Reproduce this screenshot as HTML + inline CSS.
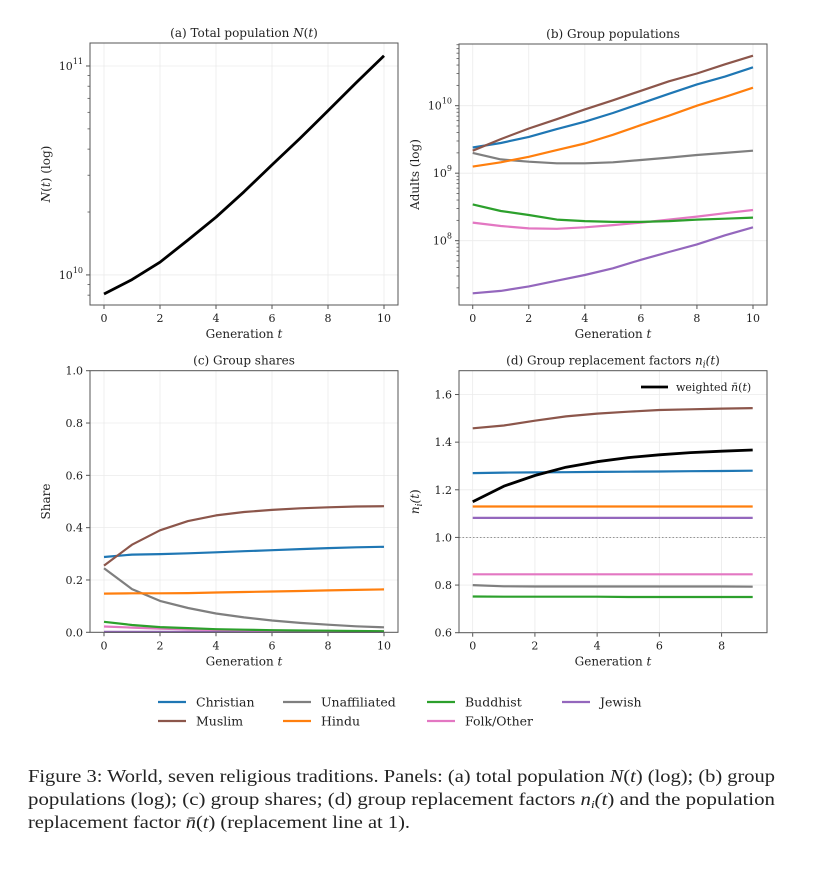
<!DOCTYPE html>
<html><head><meta charset="utf-8"><style>
body{margin:0;background:#fff;}
svg{display:block;font-family:"DejaVu Serif","Liberation Serif",serif;}
</style></head><body>
<svg id="fig" width="820" height="869"></svg>
<script>
const gens = [0,1,2,3,4,5,6,7,8,9,10];
const gensD = [0,1,2,3,4,5,6,7,8,9];
const groups = ["Christian","Muslim","Unaffiliated","Hindu","Buddhist","Folk/Other","Jewish"];
const colors = ["#1f77b4","#8c564b","#7f7f7f","#ff7f0e","#2ca02c","#e377c2","#9467bd"];
const totalPop = [8.1e9,9.5e9,1.15e10,1.47e10,1.89e10,2.5e10,3.36e10,4.5e10,6.1e10,8.3e10,1.12e11];
const popChristian = [2.4e9,2.8e9,3.45e9,4.5e9,5.8e9,7.8e9,1.08e10,1.5e10,2.07e10,2.7e10,3.7e10];
const popMuslim = [2.15e9,3.2e9,4.6e9,6.3e9,8.8e9,1.2e10,1.66e10,2.3e10,3.0e10,4.1e10,5.5e10];
const popUnaffiliated = [2.0e9,1.6e9,1.48e9,1.4e9,1.4e9,1.45e9,1.57e9,1.7e9,1.86e9,2.0e9,2.15e9];
const popHindu = [1.25e9,1.45e9,1.75e9,2.2e9,2.75e9,3.7e9,5.15e9,7.1e9,1.0e10,1.35e10,1.85e10];
const popBuddhist = [3.45e8,2.75e8,2.4e8,2.05e8,1.95e8,1.9e8,1.9e8,1.95e8,2.05e8,2.12e8,2.2e8];
const popFolk = [1.85e8,1.65e8,1.52e8,1.5e8,1.58e8,1.7e8,1.85e8,2.05e8,2.27e8,2.55e8,2.85e8];
const popJewish = [1.66e7,1.8e7,2.1e7,2.55e7,3.1e7,3.9e7,5.2e7,6.8e7,8.8e7,1.2e8,1.58e8];
const shareChristian = [0.288,0.297,0.299,0.302,0.306,0.31,0.314,0.318,0.322,0.325,0.327];
const shareMuslim = [0.255,0.335,0.39,0.425,0.447,0.46,0.468,0.474,0.478,0.481,0.482];
const shareUnaffiliated = [0.245,0.165,0.12,0.093,0.072,0.057,0.045,0.036,0.029,0.023,0.019];
const shareHindu = [0.148,0.149,0.149,0.15,0.152,0.154,0.156,0.158,0.16,0.162,0.164];
const shareBuddhist = [0.04,0.028,0.02,0.016,0.012,0.01,0.008,0.007,0.006,0.005,0.004];
const shareFolk = [0.022,0.018,0.014,0.011,0.009,0.008,0.007,0.006,0.005,0.004,0.004];
const shareJewish = [0.002,0.002,0.002,0.002,0.002,0.002,0.002,0.002,0.002,0.002,0.002];
const nChristian = [1.27,1.272,1.273,1.274,1.275,1.276,1.277,1.278,1.279,1.28];
const nMuslim = [1.458,1.47,1.49,1.508,1.52,1.528,1.535,1.538,1.541,1.543];
const nUnaffiliated = [0.8,0.795,0.794,0.794,0.794,0.794,0.794,0.794,0.794,0.793];
const nHindu = [1.13,1.13,1.13,1.13,1.13,1.13,1.13,1.13,1.13,1.13];
const nBuddhist = [0.752,0.751,0.751,0.751,0.751,0.75,0.75,0.75,0.75,0.75];
const nFolk = [0.845,0.845,0.845,0.845,0.845,0.845,0.845,0.845,0.845,0.845];
const nJewish = [1.082,1.082,1.082,1.082,1.082,1.082,1.082,1.082,1.082,1.082];
const nWeighted = [1.15,1.215,1.26,1.295,1.318,1.335,1.347,1.356,1.362,1.367];
const xTicks = [0,2,4,6,8,10];
const xTicksD = [0,2,4,6,8];
const shareTicks = [0,0.2,0.4,0.6,0.8,1.0];
const nTicks = [0.6,0.8,1.0,1.2,1.4,1.6];

const NS="http://www.w3.org/2000/svg";
const svg=document.getElementById('fig');
function el(tag,attrs,parent,txt){const e=document.createElementNS(NS,tag);for(const k in attrs)e.setAttribute(k,attrs[k]);if(txt!==undefined)e.textContent=txt;(parent||svg).appendChild(e);return e;}

function panel(name,box,xd,yd,log){
  const g=el('g',{});
  
  
  const sx=v=>box.l+(v-xd[0])/(xd[1]-xd[0])*(box.r-box.l);
  const sy=v=>{const t=log?Math.log10(v):v;return box.b-(t-yd[0])/(yd[1]-yd[0])*(box.b-box.t);};
  return {g,sx,sy,box};
}
function frame(p,xt,yt,ylabels,minor,title,ylab,isLog){
  const {g,sx,sy,box}=p;
  xt.forEach(v=>{const x=sx(v);
    el('line',{x1:x,x2:x,y1:box.t,y2:box.b,stroke:'#ebebeb','stroke-width':0.8},g);
    el('line',{x1:x,x2:x,y1:box.b,y2:box.b+4,stroke:'#555'},g);
    const t=el('text',{x:x,y:box.b+17,'font-size':11,'text-anchor':'middle',fill:'#222'},g,String(v));
    
    
  });
  yt.forEach((v,i)=>{const y=sy(v);
    el('line',{x1:box.l,x2:box.r,y1:y,y2:y,stroke:'#ebebeb','stroke-width':0.8},g);
    el('line',{x1:box.l-4,x2:box.l,y1:y,y2:y,stroke:'#555'},g);
    const t=el('text',{x:box.l-7,y:y+4,'font-size':11,'text-anchor':'end',fill:'#222'},g);
    
    
    if(isLog){t.textContent='10';el('tspan',{dy:-6,'font-size':8},t,String(ylabels[i]));}
    else t.textContent=ylabels[i];
  });
  (minor||[]).forEach(v=>{const y=sy(v);if(y>box.t&&y<box.b)el('line',{x1:box.l-2.5,x2:box.l,y1:y,y2:y,stroke:'#555','stroke-width':0.8},g);});
  const tt=el('text',{x:(box.l+box.r)/2,y:box.t-6,'font-size':12,'text-anchor':'middle',fill:'#222'},g);
  tt.innerHTML=title;
  
  
  const xl=el('text',{x:(box.l+box.r)/2,y:box.b+33,'font-size':12,'text-anchor':'middle',fill:'#222'},g);
  xl.innerHTML='Generation <tspan font-style="italic">t</tspan>';
  
  
  const cy=(box.t+box.b)/2;
  const yl=el('text',{x:box.l-40,y:cy,'font-size':12,'text-anchor':'middle',fill:'#222',transform:`rotate(-90 ${box.l-40} ${cy})`},g);
  yl.innerHTML=ylab;
  
  
}
function border(p){const b=p.box;el('rect',{x:b.l,y:b.t,width:b.r-b.l,height:b.b-b.t,fill:'none',stroke:'#555','stroke-width':1},p.g);}
function series(p,xs,ys,color,name,w){
  const d=xs.map((x,i)=>(i?'L':'M')+p.sx(x).toFixed(1)+','+p.sy(ys[i]).toFixed(1)).join('');
  const path=el('path',{d:d,fill:'none',stroke:color,'stroke-width':w||2.2,'stroke-linejoin':'round'},p.g);
  
  
}
function logMinor(lo,hi){const m=[];for(let e=lo;e<=hi;e++)for(let k=2;k<=9;k++)m.push(k*Math.pow(10,e));return m;}

const pa=panel('panel-a-total-population',{l:90,r:398,t:43,b:305},[-0.5,10.5],[9.856,11.11],true);
frame(pa,xTicks,[1e10,1e11],[10,11],logMinor(9,11),'(a) Total population <tspan font-style="italic">N</tspan>(<tspan font-style="italic">t</tspan>)','<tspan font-style="italic">N</tspan>(<tspan font-style="italic">t</tspan>) (log)',true);
series(pa,gens,totalPop,'#000','total-population-line',2.8);
border(pa);

const pb=panel('panel-b-group-populations',{l:459,r:767,t:44,b:305},[-0.49,10.5],[7.047,10.914],true);
frame(pb,xTicks,[1e8,1e9,1e10],[8,9,10],logMinor(7,10),'(b) Group populations','Adults (log)',true);
const pops=[popChristian,popMuslim,popUnaffiliated,popHindu,popBuddhist,popFolk,popJewish];
[6,5,4,2,3,0,1].forEach(i=>series(pb,gens,pops[i],colors[i],'pop-line-'+groups[i].toLowerCase().replace('/','-')));
border(pb);

const pc=panel('panel-c-group-shares',{l:90,r:398,t:370.7,b:632.3},[-0.5,10.5],[0,1],false);
frame(pc,xTicks,shareTicks,shareTicks.map(v=>v.toFixed(1)),null,'(c) Group shares','Share',false);
const shares=[shareChristian,shareMuslim,shareUnaffiliated,shareHindu,shareBuddhist,shareFolk,shareJewish];
[6,5,4,2,3,0,1].forEach(i=>series(pc,gens,shares[i],colors[i],'share-line-'+groups[i].toLowerCase().replace('/','-')));
border(pc);

const pd=panel('panel-d-replacement-factors',{l:459,r:767,t:370.7,b:632.7},[-0.44,9.46],[0.6,1.7],false);
frame(pd,xTicksD,nTicks,nTicks.map(v=>v.toFixed(1)),null,'(d) Group replacement factors <tspan font-style="italic">n<tspan font-size="9" dy="3">i</tspan><tspan dy="-3">(</tspan>t</tspan>)','<tspan font-style="italic">n<tspan font-size="9" dy="3">i</tspan><tspan dy="-3">(</tspan>t</tspan>)',false);
const rl=el('line',{x1:459,x2:767,y1:pd.sy(1),y2:pd.sy(1),stroke:'#888','stroke-width':0.9,'stroke-dasharray':'1.5,2'},pd.g);


const ns=[nChristian,nMuslim,nUnaffiliated,nHindu,nBuddhist,nFolk,nJewish];
[6,5,4,2,3,0,1].forEach(i=>series(pd,gensD,ns[i],colors[i],'n-line-'+groups[i].toLowerCase().replace('/','-')));
series(pd,gensD,nWeighted,'#000','weighted-n-line',2.8);
const lgd=el('g',{},pd.g);


el('line',{x1:641,x2:668,y1:387,y2:387,stroke:'#000','stroke-width':2.8},lgd);
const lt=el('text',{x:676,y:391,'font-size':11,fill:'#222'},lgd);
lt.innerHTML='weighted <tspan font-style="italic">n̄</tspan>(<tspan font-style="italic">t</tspan>)';
border(pd);

const legend=el('g',{});


const legPos=[[158,702],[158,721],[283,702],[283,721],[427,702],[427,721],[562,702]];
groups.forEach((gname,i)=>{
  const [x,y]=legPos[i];
  const e=el('g',{},legend);
  
  
  el('line',{x1:x,x2:x+28,y1:y,y2:y,stroke:colors[i],'stroke-width':2.2},e);
  el('text',{x:x+38,y:y+4.5,'font-size':12.5,fill:'#222'},e,gname);
});

// Caption
const cap=el('g',{});


const capLines=[
 'Figure 3: World, seven religious traditions. Panels: (a) total population <tspan font-style="italic">N</tspan>(<tspan font-style="italic">t</tspan>) (log); (b) group',
 'populations (log); (c) group shares; (d) group replacement factors <tspan font-style="italic">n<tspan font-size="11" dy="3">i</tspan><tspan dy="-3">(</tspan>t</tspan>) and the population',
 'replacement factor <tspan font-style="italic">n̄</tspan>(<tspan font-style="italic">t</tspan>) (replacement line at 1).'
];
const capY=[782,805,828];
const tl=[];
capLines.forEach((s,i)=>{
  const t=el('text',{x:28,y:capY[i],'font-size':17.5,fill:'#222','font-family':'"Liberation Serif",serif'},cap);
  t.innerHTML=s;
  tl.push(t);
});
const target=747;
const ratio=target/tl[0].getComputedTextLength();
tl[0].setAttribute('textLength',target);
tl[0].setAttribute('lengthAdjust','spacingAndGlyphs');
tl[1].setAttribute('textLength',target);
tl[1].setAttribute('lengthAdjust','spacingAndGlyphs');
tl[2].setAttribute('textLength',(tl[2].getComputedTextLength()*ratio).toFixed(1));
tl[2].setAttribute('lengthAdjust','spacingAndGlyphs');
</script>
</body></html>
